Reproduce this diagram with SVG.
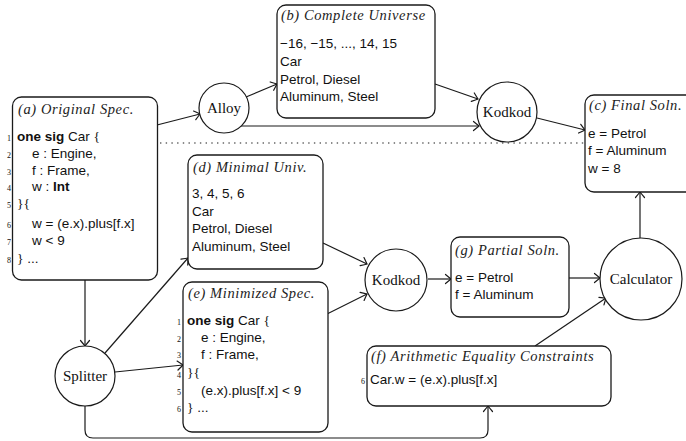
<svg xmlns="http://www.w3.org/2000/svg" width="686" height="441" viewBox="0 0 686 441">
<style>
.box{fill:#fff;stroke:#1a1a1a;stroke-width:1.3}
.circ{fill:#fff;stroke:#1a1a1a;stroke-width:1.2}
.ttl{font-family:"Liberation Serif",serif;font-style:italic;font-size:14.5px;letter-spacing:0.6px;fill:#222}
.txt{font-family:"Liberation Sans",Arial,sans-serif;font-size:13.5px;fill:#111}
.lbl{font-family:"Liberation Serif",serif;font-size:15px;fill:#111;text-anchor:middle}
.num{font-family:"Liberation Serif",serif;font-size:8px;fill:#111;text-anchor:end}
.br{font-family:"Liberation Serif",serif}
.b{font-weight:bold}
.edge{fill:none;stroke:#1a1a1a;stroke-width:1.2;marker-end:url(#arr)}
.dot{fill:none;stroke:#1a1a1a;stroke-width:1.1;stroke-dasharray:1.4 4.3}
</style>
<defs>
<marker id="arr" markerUnits="userSpaceOnUse" markerWidth="12" markerHeight="12" viewBox="-7 -6 8 12" refX="0" refY="0" orient="auto">
<path d="M-5.5,-4.5 Q-1.5,-1.2 0,0 Q-1.5,1.2 -5.5,4.5" fill="none" stroke="#1a1a1a" stroke-width="1.2" stroke-linecap="round"/>
</marker>
</defs>

<g id="connectors">
<path class="edge" d="M157,125 L200,114"/>
<path class="edge" d="M246,97 L277,84"/>
<path class="edge" d="M241,126 L479,126"/>
<path class="edge" d="M435,84 L478,99"/>
<path class="edge" d="M537,118 L585,130"/>
<path class="edge" d="M85,280 L85,346"/>
<path class="edge" d="M105,353 L188,258"/>
<path class="edge" d="M115,372 L183,365"/>
<path class="edge" d="M85,406 V430 Q85,438 93,438 H480 Q488,438 488,430 V406"/>
<path class="edge" d="M323,243 L367,264"/>
<path class="edge" d="M327,314 L367,294"/>
<path class="edge" d="M428,279 L451,279"/>
<path class="edge" d="M569,278 L600,278"/>
<path class="edge" d="M535,346 L606,298"/>
<path class="edge" d="M640,238 L640,192"/>
<path class="dot" d="M160,143 H585"/>
</g>

<g id="a">
<rect class="box" x="12.5" y="97" width="145" height="183" rx="9"/>
<text class="ttl" x="18" y="114">(a) Original Spec.</text>
<text class="num" x="11" y="141">1</text>
<text class="num" x="11" y="158">2</text>
<text class="num" x="11" y="175">3</text>
<text class="num" x="11" y="191">4</text>
<text class="num" x="11" y="208">5</text>
<text class="num" x="11" y="228">6</text>
<text class="num" x="11" y="245">7</text>
<text class="num" x="11" y="263">8</text>
<text class="txt" x="17" y="141"><tspan class="b">one sig</tspan> Car <tspan class="br">{</tspan></text>
<text class="txt" x="32" y="158">e : Engine,</text>
<text class="txt" x="32" y="175">f : Frame,</text>
<text class="txt" x="32" y="191">w : <tspan class="b">Int</tspan></text>
<text class="txt" x="17" y="208"><tspan class="br">}{</tspan></text>
<text class="txt" x="32" y="228">w = (e.x).plus[f.x]</text>
<text class="txt" x="32" y="245">w &lt; 9</text>
<text class="txt" x="17" y="263"><tspan class="br">}</tspan> ...</text>
</g>

<g id="alloy">
<circle class="circ" cx="224" cy="108" r="25"/>
<text class="lbl" x="224" y="113">Alloy</text>
</g>

<g id="b">
<rect class="box" x="277" y="5" width="158" height="113" rx="9"/>
<text class="ttl" x="281" y="20">(b) Complete Universe</text>
<text class="txt" x="280" y="48">−16, −15, ..., 14, 15</text>
<text class="txt" x="280" y="66">Car</text>
<text class="txt" x="280" y="84">Petrol, Diesel</text>
<text class="txt" x="280" y="101">Aluminum, Steel</text>
</g>

<g id="kodkod1">
<circle class="circ" cx="507" cy="112" r="30"/>
<text class="lbl" x="507" y="117">Kodkod</text>
</g>

<g id="c">
<rect class="box" x="585" y="95" width="115" height="97" rx="9"/>
<text class="ttl" x="589" y="110">(c) Final Soln.</text>
<text class="txt" x="588" y="138">e = Petrol</text>
<text class="txt" x="588" y="155">f = Aluminum</text>
<text class="txt" x="588" y="173">w = 8</text>
</g>

<g id="d">
<rect class="box" x="188" y="155" width="135" height="114" rx="9"/>
<text class="ttl" x="193" y="172">(d) Minimal Univ.</text>
<text class="txt" x="192" y="198">3, 4, 5, 6</text>
<text class="txt" x="192" y="216">Car</text>
<text class="txt" x="192" y="233">Petrol, Diesel</text>
<text class="txt" x="192" y="251">Aluminum, Steel</text>
</g>

<g id="e">
<rect class="box" x="183" y="282" width="145" height="150" rx="9"/>
<text class="ttl" x="188" y="298">(e) Minimized Spec.</text>
<text class="num" x="181" y="325">1</text>
<text class="num" x="181" y="342">2</text>
<text class="num" x="181" y="358">3</text>
<text class="num" x="181" y="378">4</text>
<text class="num" x="181" y="395">5</text>
<text class="num" x="181" y="412">6</text>
<text class="txt" x="187" y="325"><tspan class="b">one sig</tspan> Car <tspan class="br">{</tspan></text>
<text class="txt" x="201" y="342">e : Engine,</text>
<text class="txt" x="201" y="359">f : Frame,</text>
<text class="txt" x="187" y="377"><tspan class="br">}{</tspan></text>
<text class="txt" x="201" y="395">(e.x).plus[f.x] &lt; 9</text>
<text class="txt" x="187" y="412"><tspan class="br">}</tspan> ...</text>
</g>

<g id="splitter">
<circle class="circ" cx="85" cy="376" r="30"/>
<text class="lbl" x="85" y="381">Splitter</text>
</g>

<g id="kodkod2">
<circle class="circ" cx="396" cy="280" r="31"/>
<text class="lbl" x="396" y="285">Kodkod</text>
</g>

<g id="g">
<rect class="box" x="451" y="237" width="118" height="80" rx="9"/>
<text class="ttl" x="455" y="255">(g) Partial Soln.</text>
<text class="txt" x="455" y="282">e = Petrol</text>
<text class="txt" x="455" y="299">f = Aluminum</text>
</g>

<g id="f">
<rect class="box" x="367" y="346" width="244" height="60" rx="9"/>
<text class="ttl" x="371" y="361">(f) Arithmetic Equality Constraints</text>
<text class="num" x="365" y="384">6</text>
<text class="txt" x="370" y="384">Car.w = (e.x).plus[f.x]</text>
</g>

<g id="calculator">
<circle class="circ" cx="641" cy="279" r="41"/>
<text class="lbl" x="641" y="284">Calculator</text>
</g>
</svg>
